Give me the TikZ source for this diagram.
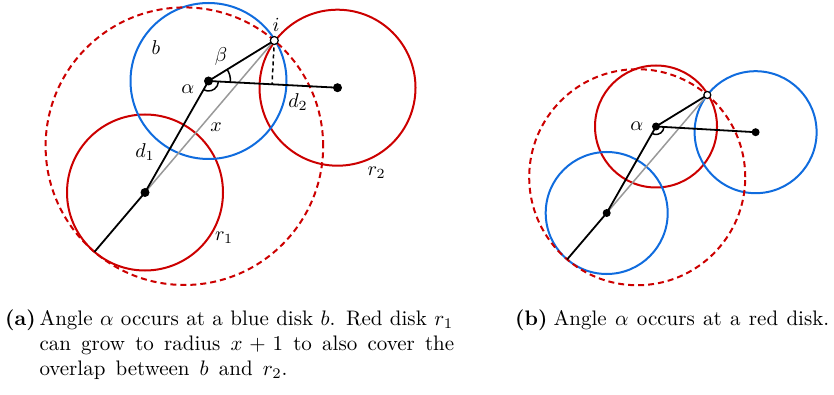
\documentclass[tikz,border=0pt]{standalone}
\usepackage{graphicx}
\usetikzlibrary{calc,angles}
\definecolor{dred}{RGB}{204,0,0}
\definecolor{dblue}{RGB}{16,108,222}
\newcommand{\sbx}[1]{\scalebox{2}{#1}}
\newcommand{\cbx}[1]{\scalebox{2.1}{#1}}
\begin{document}
\begin{tikzpicture}[x=1pt,y=-1pt,
  disk/.style={line width=2pt},
  seg/.style={line width=1.8pt, draw=black},
  xline/.style={line width=1.5pt, draw=black!40},
  dsh/.style={dash pattern=on 6pt off 4pt},
  dot/.style={circle, fill=black, inner sep=0pt, minimum size=9pt},
  odot/.style={circle, draw=black, fill=white, line width=1.2pt, inner sep=0pt, minimum size=8pt},
  lab/.style={font=\fontsize{10}{12}\selectfont, inner sep=0pt},
  captext/.style={font=\fontsize{10}{12}\selectfont, inner sep=0pt, anchor=base west},
  ang/.style={draw, line width=1.5pt}]
\useasboundingbox (0,0) rectangle (834,395);

% ---------- panel (a) ----------
\coordinate (B) at (208.5,81);
\coordinate (R1) at (145,192.5);
\coordinate (R2) at (337.5,87.7);
\coordinate (I) at (274.3,40.5);
\coordinate (E) at ($(R1)!-78pt!(I)$);
\coordinate (F) at ($(B)!(I)!(R2)$);

\draw[disk, dred] (R1) circle[radius=78pt];
\draw[disk, dred] (R2) circle[radius=78pt];
\draw[disk, dblue] (B) circle[radius=78pt];
\draw[disk, dred, dsh] let \p1=($(E)!0.5!(I)$), \p2=($(I)-(E)$), \n1={veclen(\x2,\y2)/2} in (\p1) circle[radius=\n1];

\draw[xline] (R1) -- (I);
\draw[seg] (E) -- (R1) -- (B) -- (I);
\draw[seg] (B) -- (R2);
\draw[seg, dash pattern=on 4pt off 3pt, line width=1.5pt] (I) -- (F);
\pic[ang, angle radius=10pt] {angle=R1--B--R2};
\pic[ang, angle radius=22pt] {angle=R2--B--I};

\node[dot] (dB) at (B) {};
\node[dot] (dR1) at (R1) {};
\node[dot] (dR2) at (R2) {};
\node[odot] (dI) at (I) {};

\node[lab] (li) at (276,25) {\sbx{$i$}};
\node[lab] (lb) at (156,48) {\sbx{$b$}};
\node[lab] (lbeta) at (221,57) {\sbx{$\beta$}};
\node[lab] (lalpha) at (187.7,89) {\sbx{$\alpha$}};
\node[lab] (ld2) at (298,102) {\sbx{$d_2$}};
\node[lab] (lx) at (216,127) {\sbx{$x$}};
\node[lab] (ld1) at (145,152) {\sbx{$d_1$}};
\node[lab] (lr2) at (376.7,173) {\sbx{$r_2$}};
\node[lab] (lr1) at (224,238) {\sbx{$r_1$}};

% ---------- panel (b) ----------
\coordinate (A2) at (656,126.5);
\coordinate (L) at (606.7,213);
\coordinate (Rt) at (755.6,132.2);
\coordinate (I2) at (707.3,95);
\coordinate (E2) at ($(L)!-61pt!(I2)$);

\draw[disk, dred] (A2) circle[radius=61pt];
\draw[disk, dblue] (L) circle[radius=61pt];
\draw[disk, dblue] (Rt) circle[radius=61pt];
\draw[disk, dred, dsh] let \p1=($(E2)!0.5!(I2)$), \p2=($(I2)-(E2)$), \n1={veclen(\x2,\y2)/2} in (\p1) circle[radius=\n1];

\draw[xline] (L) -- (I2);
\draw[seg] (E2) -- (L) -- (A2) -- (I2);
\draw[seg] (A2) -- (Rt);
\pic[ang, angle radius=8pt] {angle=L--A2--Rt};

\node[dot, minimum size=8pt] (dA2) at (A2) {};
\node[dot, minimum size=8pt] (dL) at (L) {};
\node[dot, minimum size=8pt] (dRt) at (Rt) {};
\node[odot, minimum size=7pt] (dI2) at (I2) {};

\node[lab] (lalpha2) at (636.7,126) {\sbx{$\alpha$}};

% ---------- captions ----------
\node[captext] (capa) at (5,325) {\cbx{\textbf{(a)}}};
\node[captext] (capa1) at (39.3,325) {\cbx{\makebox[197pt][s]{Angle $\alpha$ occurs at a blue disk $b$. Red disk $r_1$}}};
\node[captext] (capa2) at (39.3,350) {\cbx{\makebox[197.5pt][s]{can grow to radius $x+1$ to also cover the}}};
\node[captext] (capa3) at (39.3,375) {\cbx{\makebox[118.1pt][s]{overlap between $b$ and $r_2$.}}};
\node[captext] (capb) at (515,325) {\cbx{\textbf{(b)}}};
\node[captext] (capb1) at (553.5,325) {\cbx{\makebox[131.2pt][s]{Angle $\alpha$ occurs at a red disk.}}};
\end{tikzpicture}
\end{document}
